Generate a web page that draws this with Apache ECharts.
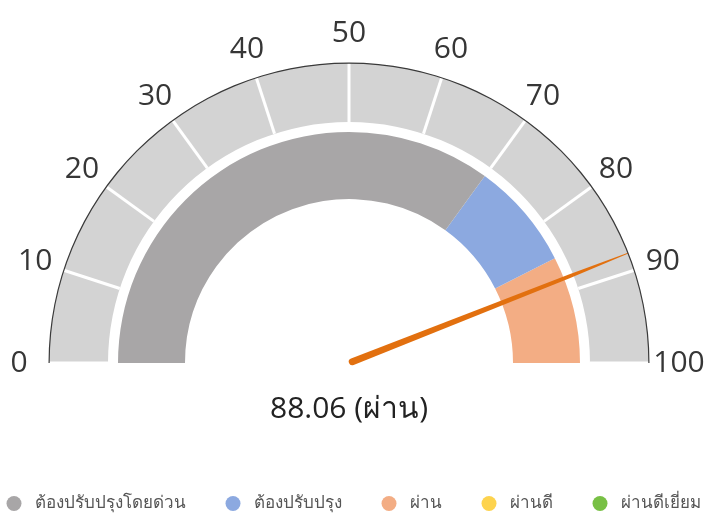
<!DOCTYPE html>
<html>
<head>
<meta charset="utf-8">
<script src="https://cdn.jsdelivr.net/npm/echarts@6/dist/echarts.min.js"></script>
<style>
  html, body { margin: 0; padding: 0; background: #fff; }
  #chart { width: 707px; height: 527px; }
</style>
</head>
<body>
<div id="chart"></div>
<script>
// ---- data ----
const categoryNames = ['ต้องปรับปรุงโดยด่วน', 'ต้องปรับปรุง', 'ผ่าน', 'ผ่านดี', 'ผ่านดีเยี่ยม'];
const categoryColors = ['#a8a6a7', '#8ca9e0', '#f3ad84', '#fdd34e', '#78c045'];
const bandLimits = [70, 85, 100];       // upper limits of the visible bands (gray, blue, orange)
const gaugeMin = 0;
const gaugeMax = 100;
const gaugeSplits = 10;
const gaugeValue = 88.06;
const statusLabel = 'ผ่าน';

// ---- chart ----
const chart = echarts.init(document.getElementById('chart'), null, { renderer: 'canvas' });
const center = [349, 363];
const bandStops = bandLimits.map((v, i) => [(v - gaugeMin) / (gaugeMax - gaugeMin), categoryColors[i]]);

const option = {
  animation: false,
  legend: {
    bottom: 10,
    left: 'center',
    icon: 'circle',
    itemWidth: 15,
    itemHeight: 15,
    itemGap: 40,
    data: categoryNames,
    textStyle: { fontSize: 17, color: '#555', padding: [0, 0, 0, 8] }
  },
  series: [
    {
      // inner coloured band
      type: 'gauge', z: 1,
      center: center, radius: 231,
      startAngle: 180, endAngle: 0,
      min: gaugeMin, max: gaugeMax, splitNumber: gaugeSplits,
      axisLine: { lineStyle: { width: 67, color: bandStops } },
      splitLine: { show: false }, axisTick: { show: false }, axisLabel: { show: false },
      pointer: { show: false }, anchor: { show: false }, title: { show: false }, detail: { show: false },
      data: [{ value: gaugeValue }]
    },
    {
      // outer segmented ring with labels, pointer and value
      type: 'gauge', z: 2,
      center: center, radius: 300,
      startAngle: 180, endAngle: 0,
      min: gaugeMin, max: gaugeMax, splitNumber: gaugeSplits,
      axisLine: { lineStyle: { width: 59, color: [[1, '#d3d3d3']] } },
      splitLine: { show: true, distance: -59, length: 59, lineStyle: { color: '#ffffff', width: 3 } },
      axisTick: { show: false },
      axisLabel: {
        show: true, distance: -30, rotate: 0.0001,
        fontSize: 30, color: '#363636', fontFamily: 'Open Sans'
      },
      pointer: {
        show: true,
        icon: 'path://M43,0 L57,0 L77,210 L100,988 A50,12 0 0 1 0,988 L23,210 Z',
        length: '100%', width: 7,
        itemStyle: { color: '#e2700f' }
      },
      anchor: { show: false },
      title: { show: false },
      detail: {
        show: true, offsetCenter: [0, 46],
        fontSize: 30, color: '#222', fontFamily: 'Open Sans', fontWeight: 'normal',
        formatter: function (v) { return v.toFixed(2) + ' (' + statusLabel + ')'; }
      },
      data: [{ value: gaugeValue }]
    },
    {
      // thin outline arc
      type: 'gauge', z: 3,
      center: center, radius: 300.5,
      startAngle: 180, endAngle: 0,
      min: gaugeMin, max: gaugeMax,
      axisLine: { lineStyle: { width: 1.2, color: [[1, '#3a3a3a']] } },
      splitLine: { show: false }, axisTick: { show: false }, axisLabel: { show: false },
      pointer: { show: false }, anchor: { show: false }, title: { show: false }, detail: { show: false },
      data: [{ value: gaugeValue }]
    },
    {
      // legend carrier (no visible marks)
      type: 'pie', radius: [0, 0], center: [-100, -100], silent: true,
      label: { show: false }, labelLine: { show: false },
      data: categoryNames.map((n, i) => ({ name: n, value: 1, itemStyle: { color: categoryColors[i] } }))
    }
  ]
};
chart.setOption(option);
</script>
</body>
</html>
